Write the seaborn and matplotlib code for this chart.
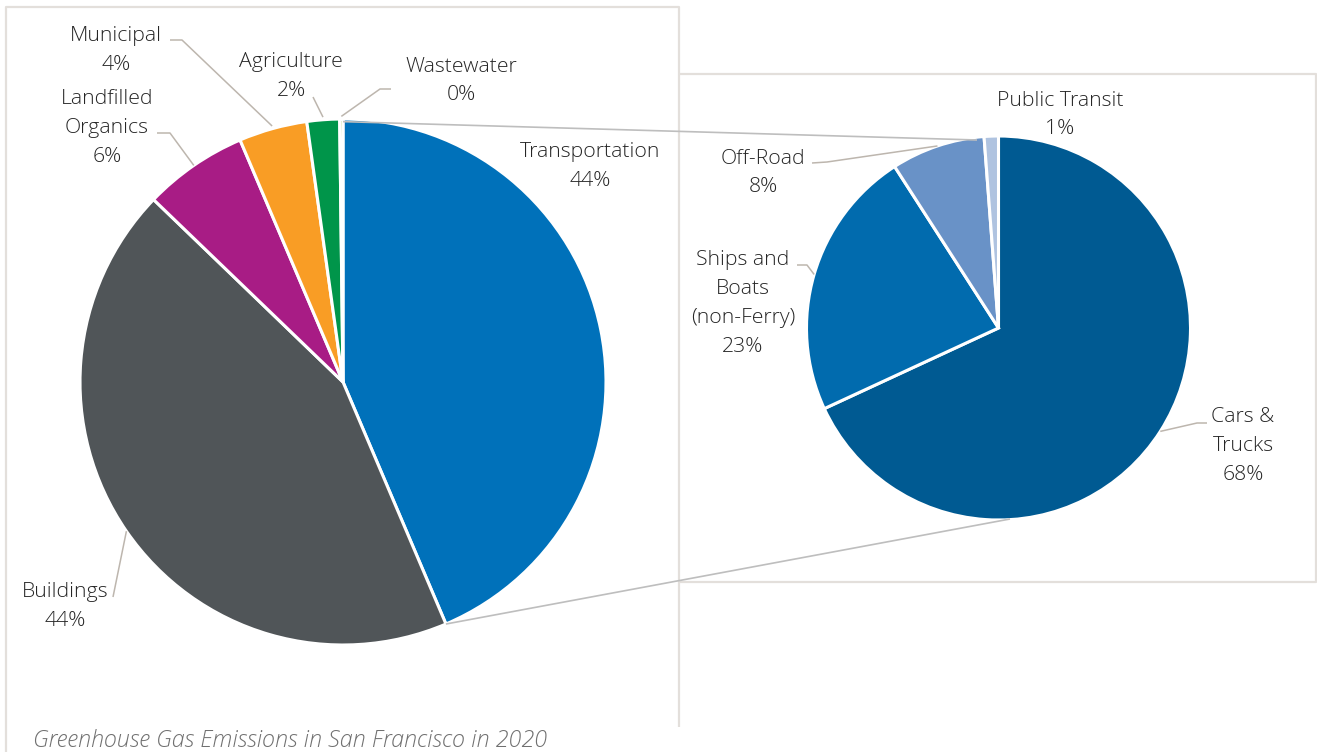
import numpy as np
import matplotlib
matplotlib.use("Agg")
import matplotlib.pyplot as plt
from matplotlib.lines import Line2D
import seaborn as sns

# ---------------- data ----------------
main_labels = ["Transportation", "Buildings", "Landfilled\nOrganics", "Municipal", "Agriculture", "Wastewater"]
main_values = [43.6, 43.6, 6.4, 4.2, 2.0, 0.2]
main_colors = ["#0071BA", "#505558", "#A81C85", "#F99D25", "#00954A", "#8DC63F"]

sub_labels = ["Cars &\nTrucks", "Ships and\nBoats\n(non-Ferry)", "Off-Road", "Public Transit"]
sub_values = [68.1, 22.8, 7.9, 1.2]
sub_colors = ["#005A92", "#016BAE", "#6992C7", "#AFC3E0"]

caption = "Greenhouse Gas Emissions in San Francisco in 2020"

# ---------------- style ----------------
sns.set_theme(style="white")
plt.rcParams["font.family"] = ["Open Sans", "DejaVu Sans"]

W, H = 1317, 752
fig = plt.figure(figsize=(W / 100, H / 100), dpi=100)
fig.patch.set_facecolor("white")

TXT = "#262626"
LEAD = "#BDB6AE"
CONN = "#BEBEBE"
FRAME = "#E3DFDB"
FS = 15.3


def fig_line(pts, color, lw):
    xs = [p[0] / W for p in pts]
    ys = [1 - p[1] / H for p in pts]
    fig.add_artist(Line2D(xs, ys, transform=fig.transFigure, color=color, lw=lw,
                          solid_capstyle="butt", zorder=5))


def make_pie(cx, cy, r, values, colors):
    ax = fig.add_axes([(cx - r) / W, 1 - (cy + r) / H, 2 * r / W, 2 * r / H])
    wedges, _ = ax.pie(values, colors=colors, startangle=90, counterclock=False,
                       radius=1, wedgeprops=dict(edgecolor="white", linewidth=2.2))
    ax.set_xlim(-1, 1)
    ax.set_ylim(-1, 1)
    ax.set_aspect("equal")
    ax.axis("off")
    return ax, wedges


def edge_px(cx, cy, r, ang_deg, k=1.0):
    a = np.deg2rad(ang_deg)
    return (cx + k * r * np.cos(a), cy - k * r * np.sin(a))


def mid(w):
    return 0.5 * (w.theta1 + w.theta2)


# ---------------- frames ----------------
fig_line([(6, 752), (6, 7), (679, 7), (679, 727)], FRAME, 1.6)
fig_line([(679, 74), (1316, 74), (1316, 582), (680, 582)], FRAME, 1.6)

# ---------------- pies ----------------
LCX, LCY, LR = 343, 382, 263
RCX, RCY, RR = 998.5, 328, 192
ax1, w1 = make_pie(LCX, LCY, LR, main_values, main_colors)
ax2, w2 = make_pie(RCX, RCY, RR, sub_values, sub_colors)

# connector lines (transportation wedge -> secondary pie)
t = w1[0]
p_top = edge_px(LCX, LCY, LR, t.theta2, 0.99)
p_bot = edge_px(LCX, LCY, LR, t.theta1, 1.0)
fig_line([p_top, (977, 140)], CONN, 1.2)
fig_line([p_bot, (1010, 519)], CONN, 1.2)


def pct(v):
    return f"{int(round(v))}%"


def label(px, py, name, v):
    fig.text(px / W, 1 - py / H, f"{name}\n{pct(v)}", ha="center", va="center",
             fontsize=FS, color=TXT, linespacing=1.6, fontweight="light")


# ---------------- main pie labels ----------------
label(590, 167, main_labels[0], main_values[0])
label(65, 607, main_labels[1], main_values[1])
label(107, 128, main_labels[2], main_values[2])
label(116, 50, main_labels[3], main_values[3])
label(291, 77, main_labels[4], main_values[4])
label(461, 81, main_labels[5], main_values[5])

# leaders
fig_line([(113, 597), edge_px(LCX, LCY, LR, mid(w1[1]), 1.0)], LEAD, 1.1)
fig_line([(157, 133), (170, 133), edge_px(LCX, LCY, LR, mid(w1[2]), 1.0)], LEAD, 1.1)
fig_line([(170, 40), (182, 40), edge_px(LCX, LCY, LR, mid(w1[3]), 1.01)], LEAD, 1.1)
fig_line([(313, 97), edge_px(LCX, LCY, LR, mid(w1[4]), 1.01)], LEAD, 1.1)
fig_line([(391, 89), (380, 89), edge_px(LCX, LCY, LR, mid(w1[5]), 1.01)], LEAD, 1.1)

# ---------------- sub pie labels ----------------
label(1243, 446, sub_labels[0], sub_values[0])
label(743, 303, sub_labels[1], sub_values[1])
label(763, 173, sub_labels[2], sub_values[2])
label(1060, 115, sub_labels[3], sub_values[3])

fig_line([(1207, 423), (1197, 423), edge_px(RCX, RCY, RR, mid(w2[0]), 1.0)], LEAD, 1.1)
fig_line([(797, 265), (807, 265), edge_px(RCX, RCY, RR, mid(w2[1]), 1.0)], LEAD, 1.1)
fig_line([(812, 163), (827, 162), edge_px(RCX, RCY, RR, mid(w2[2]), 1.0)], LEAD, 1.1)

# ---------------- caption ----------------
fig.text(33 / W, 1 - 741 / H, caption, ha="left", va="center", fontsize=16.8,
         color="#707070", style="italic", fontweight="light")

fig.savefig("out.png", dpi=100, facecolor="white")
